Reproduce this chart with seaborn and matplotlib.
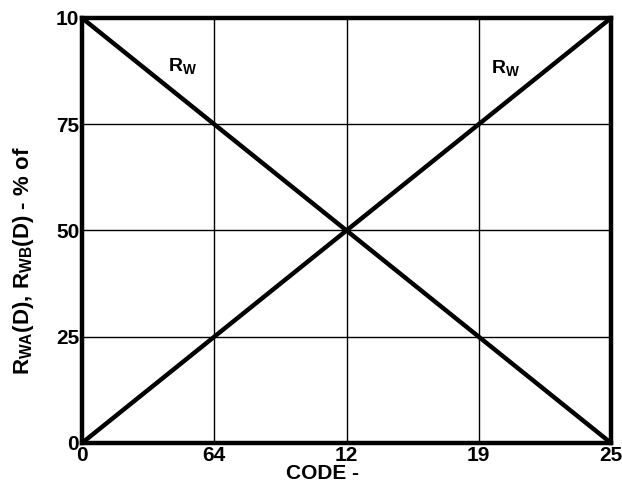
import numpy as np
import pandas as pd
import matplotlib
matplotlib.use("Agg")
import matplotlib.pyplot as plt
import seaborn as sns

# data
codes = [0, 64, 128, 192, 256]
rwa_pct = [100, 75, 50, 25, 0]
rwb_pct = [0, 25, 50, 75, 100]
x_ticks = [0, 64, 128, 192, 256]
x_tick_labels = ["0", "64", "12", "19", "25"]
y_ticks = [0, 25, 50, 75, 100]
y_tick_labels = ["0", "25", "50", "75", "10"]

df = pd.DataFrame({"code": codes * 2,
                   "pct": rwa_pct + rwb_pct,
                   "series": ["RWA"] * len(codes) + ["RWB"] * len(codes)})

sns.set_style("white")
plt.rcParams["font.family"] = ["Liberation Sans Narrow", "Liberation Sans", "DejaVu Sans"]
plt.rcParams["mathtext.default"] = "regular"
plt.rcParams["text.color"] = "black"
plt.rcParams["axes.labelcolor"] = "black"
plt.rcParams["xtick.color"] = "black"
plt.rcParams["ytick.color"] = "black"

fig = plt.figure(figsize=(6.22, 4.97), dpi=100)
ax = fig.add_axes([82 / 622, 1 - 443 / 497, 529 / 622, 425 / 497])

sns.lineplot(data=df, x="code", y="pct", units="series", estimator=None,
             color="black", linewidth=3.2, ax=ax, legend=False)

ax.set_xlim(0, 256)
ax.set_ylim(0, 100)
ax.set_xticks(x_ticks)
ax.set_xticklabels(x_tick_labels)
ax.set_yticks(y_ticks)
ax.set_yticklabels(y_tick_labels)
ax.grid(True, color="black", linewidth=1.0)
ax.tick_params(axis="both", length=0, labelsize=15, pad=2)
for lbl in ax.get_xticklabels() + ax.get_yticklabels():
    lbl.set_fontweight("bold")
for sp in ax.spines.values():
    sp.set_visible(True)
    sp.set_color("black")
    sp.set_linewidth(3.2)

ax.set_xlabel("CODE -", fontsize=15, fontweight="bold")
ax.xaxis.set_label_coords(0.454, -0.05, transform=ax.transAxes)
ax.xaxis.label.set_verticalalignment("top")
ax.set_ylabel(r"R$_{WA}$(D), R$_{WB}$(D) - % of", fontsize=16,
              fontweight="bold")
ax.yaxis.set_label_coords(-0.087, 0.43, transform=ax.transAxes)

ax.text(48.5, 88.7, r"R$_{W}$", fontsize=14, fontweight="bold", ha="center", va="center")
ax.text(205, 88.2, r"R$_{W}$", fontsize=14, fontweight="bold", ha="center", va="center")

fig.savefig("out.png", dpi=100)
